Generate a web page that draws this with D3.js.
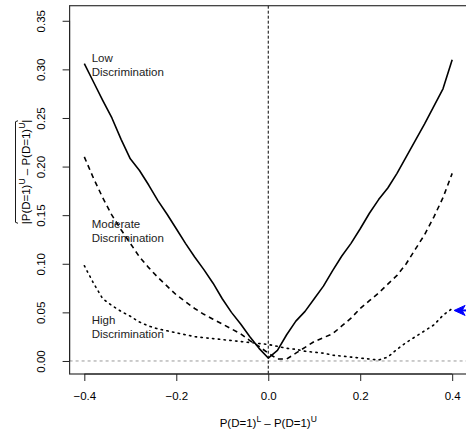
<!DOCTYPE html>
<html><head><meta charset="utf-8">
<script src="https://cdn.jsdelivr.net/npm/d3@7"></script>
<style>body{margin:0;background:#fff}svg{display:block}text{font-family:"Liberation Sans",Arial,sans-serif}</style>
</head><body>
<script>
const xs = [-0.40,-0.38,-0.36,-0.34,-0.32,-0.30,-0.28,-0.26,-0.24,-0.22,-0.20,-0.18,-0.16,-0.14,-0.12,-0.10,-0.08,-0.06,-0.04,-0.02,0.00,0.02,0.04,0.06,0.08,0.10,0.12,0.14,0.16,0.18,0.20,0.22,0.24,0.26,0.28,0.30,0.32,0.34,0.36,0.38,0.40];
const lowDisc = [0.306,0.287,0.268,0.250,0.228,0.208,0.196,0.181,0.165,0.151,0.136,0.121,0.107,0.094,0.080,0.064,0.050,0.038,0.025,0.013,0.003,0.011,0.027,0.041,0.051,0.064,0.077,0.093,0.108,0.121,0.136,0.152,0.166,0.178,0.193,0.210,0.227,0.244,0.262,0.280,0.310];
const modDisc = [0.210,0.188,0.168,0.150,0.135,0.121,0.107,0.096,0.086,0.077,0.068,0.061,0.054,0.048,0.043,0.038,0.033,0.028,0.021,0.015,0.008,0.002,0.002,0.008,0.014,0.020,0.024,0.028,0.036,0.044,0.054,0.062,0.070,0.079,0.088,0.100,0.115,0.130,0.148,0.168,0.193];
const highDisc = [0.098,0.080,0.064,0.057,0.051,0.046,0.040,0.036,0.033,0.031,0.029,0.027,0.025,0.024,0.023,0.022,0.021,0.020,0.019,0.018,0.017,0.015,0.013,0.012,0.010,0.009,0.008,0.006,0.005,0.004,0.003,0.002,0.001,0.004,0.012,0.019,0.025,0.031,0.037,0.047,0.054];
const xTicks = [-0.4,-0.2,0.0,0.2,0.4];
const xTickLabels = ["\u22120.4","\u22120.2","0.0","0.2","0.4"];
const yTicks = [0.00,0.05,0.10,0.15,0.20,0.25,0.30,0.35];
const yTickLabels = ["0.00","0.05","0.10","0.15","0.20","0.25","0.30","0.35"];
const seriesNames = ["Low","Moderate","High"];
const labelLines = [["Low","Discrimination"],["Moderate","Discrimination"],["High","Discrimination"]];
const labelX = [-0.384,-0.384,-0.384];
const labelY = [0.308,0.137,0.038];
const arrowPoint = [0.402, 0.052];

const W=466,H=430;
const svg=d3.select("body").append("svg").attr("width",W).attr("height",H);
const x=d3.scaleLinear().domain([-0.432,0.432]).range([69.6,466.9]);
const y=d3.scaleLinear().domain([-0.0134,0.3655]).range([374,5.7]);
const FS=11.5, col="#000";

// gray zero line
svg.append("line").attr("x1",x.range()[0]).attr("x2",x.range()[1]).attr("y1",y(0)).attr("y2",y(0))
  .attr("stroke","#9a9a9a").attr("stroke-width",1).attr("stroke-dasharray","3,3");
// vertical x=0
svg.append("line").attr("x1",x(0)).attr("x2",x(0)).attr("y1",y.range()[1]).attr("y2",y.range()[0])
  .attr("stroke","#000").attr("stroke-width",1).attr("stroke-dasharray","3,2");

const series=[lowDisc,modDisc,highDisc];
const dashes=[null,"5,4","1.4,4.4"];
const line=d3.line().x((d,i)=>x(xs[i])).y(d=>y(d));
series.forEach((s,k)=>{
  svg.append("path").attr("d",line(s)).attr("fill","none").attr("stroke","#000")
    .attr("stroke-width",1.6).attr("stroke-dasharray",dashes[k]).attr("stroke-linejoin","round")
    .attr("stroke-linecap",k===2?"round":"butt");
});

// box
svg.append("rect").attr("x",x.range()[0]).attr("y",y.range()[1]).attr("width",x.range()[1]-x.range()[0])
  .attr("height",y.range()[0]-y.range()[1]).attr("fill","none").attr("stroke","#333").attr("stroke-width",1.2);

// x axis
const xa=svg.append("g").attr("transform",`translate(0,${y.range()[0]})`)
  .call(d3.axisBottom(x).tickValues(xTicks).tickSize(7).tickFormat((d,i)=>xTickLabels[i]));
xa.select(".domain").attr("d",`M${x(-0.4)},0H${x(0.4)}`).attr("stroke","#222");
xa.selectAll("text").attr("font-size",FS).attr("fill",col).attr("dy",null).attr("y",25.5).attr("font-family","Liberation Sans");
xa.selectAll(".tick line").attr("stroke","#222");

// y axis
const ya=svg.append("g").attr("transform",`translate(${x.range()[0]},0)`)
  .call(d3.axisLeft(y).tickValues(yTicks).tickSize(7).tickFormat((d,i)=>yTickLabels[i]));
ya.select(".domain").attr("d",`M0,${y(0)}V${y(0.35)}`).attr("stroke","#222");
ya.selectAll(".tick line").attr("stroke","#222");
ya.selectAll("text").attr("font-size",FS).attr("fill",col).attr("font-family","Liberation Sans")
  .attr("x",null).attr("dy",null).attr("text-anchor","middle")
  .attr("transform","translate(-25,0) rotate(-90)").attr("y",0);

// labels
labelLines.forEach((lines,k)=>{
  const t=svg.append("text").attr("x",x(labelX[k])).attr("y",y(labelY[k])).attr("font-size",FS).attr("fill","#222");
  lines.forEach((l,j)=>t.append("tspan").attr("x",x(labelX[k])).attr("dy",j===0?0:14.2).text(l));
});

// x title
const xt=svg.append("text").attr("x",x(0)).attr("y",426.5).attr("text-anchor","middle").attr("font-size",FS).attr("fill",col);
xt.append("tspan").text("P(D=1)");
xt.append("tspan").attr("font-size",8.5).attr("dy",-5).text("L");
xt.append("tspan").attr("dy",5).text(" \u2013 P(D=1)");
xt.append("tspan").attr("font-size",8.5).attr("dy",-5).text("U");

// y title (rotated)
const yg=svg.append("g").attr("transform",`translate(30,172) rotate(-90)`);
const yt=yg.append("text").attr("x",0).attr("y",0).attr("text-anchor","middle").attr("font-size",FS).attr("fill",col);
yt.append("tspan").text("|P(D=1)");
yt.append("tspan").attr("font-size",8.5).attr("dy",-5).text("U");
yt.append("tspan").attr("dy",5).text(" \u2013 P(D=1)");
yt.append("tspan").attr("font-size",8.5).attr("dy",-5).text("U");
yt.append("tspan").attr("dy",5).text("|");
const bb=yt.node().getBBox();
const oy=bb.y-1.5;
yg.append("path").attr("d",`M${bb.x+1},${oy+2.5}L${bb.x+2},${oy}H${bb.x+bb.width-2}L${bb.x+bb.width-1},${oy+2.5}`)
  .attr("fill","none").attr("stroke",col).attr("stroke-width",0.9);

// blue arrow
const ax=x(arrowPoint[0])+1, ay=y(arrowPoint[1]);
svg.append("line").attr("x1",ax+4).attr("x2",470).attr("y1",ay).attr("y2",ay).attr("stroke","#0000ff").attr("stroke-width",2);
svg.append("path").attr("d",`M${ax},${ay}L${ax+11},${ay-5}L${ax+8},${ay}L${ax+11},${ay+5}Z`).attr("fill","#0000ff").attr("stroke","#0000ff").attr("stroke-width",1);
</script>
</body></html>
